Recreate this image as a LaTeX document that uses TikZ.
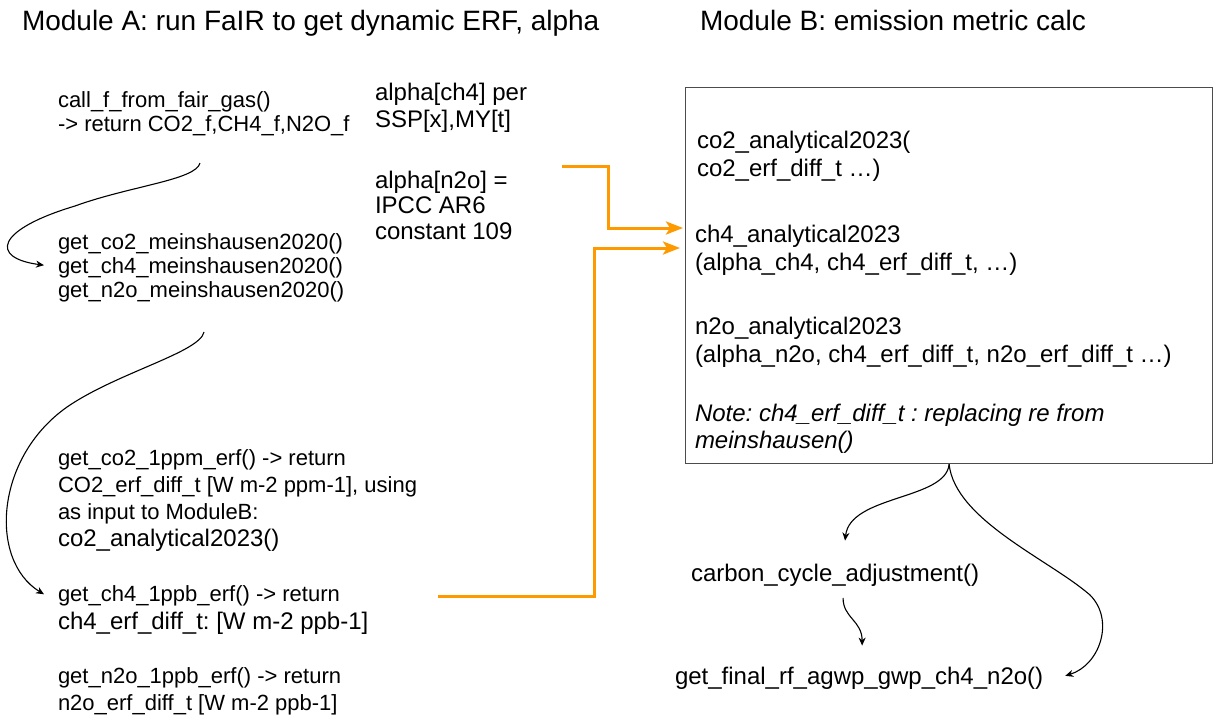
\documentclass[tikz,border=0pt]{standalone}
\usepackage{fontspec}
\setmainfont{Liberation Sans}
\usetikzlibrary{arrows.meta,calc}
\definecolor{gorange}{HTML}{FF9900}
\frenchspacing
\begin{document}
\begin{tikzpicture}[x=1pt,y=-1pt,
  lbl/.style={anchor=north west, inner sep=0pt, outer sep=0pt, align=left},
  single/.style={anchor=base west, inner sep=0pt, outer sep=0pt},
  ttl/.style={single, font=\fontsize{28}{32}\selectfont},
  barrow/.style={draw=black, line width=1.1pt, -{Stealth[length=8pt,width=7pt,inset=2.5pt]}},
  oarrow/.style={draw=gorange, line width=3pt, -{Stealth[length=17pt,width=13pt,inset=4pt]}},
  boxstyle/.style={draw=black!70, line width=1.2pt, inner sep=0pt, anchor=north west, minimum width=527pt, minimum height=376pt}
]
\fill[white] (0,0) rectangle (1224,724);
\useasboundingbox (0,0) rectangle (1224,724);

% titles
\node[ttl] (titleA) at (22,30) {Module A: run FaIR to get dynamic ERF, alpha};
\node[ttl] (titleB) at (700,30) {Module B: emission metric calc};

% Module A texts
\node[lbl, font=\fontsize{22}{24}\selectfont\frenchspacing] (t1) at (58,90.5)
  {\strut call\_f\_from\_fair\_gas()\\-> return CO2\_f,CH4\_f,N2O\_f};
\node[lbl, font=\fontsize{22}{24}\selectfont\frenchspacing] (t2) at (58,232.5)
  {\strut get\_co2\_meinshausen2020()\\get\_ch4\_meinshausen2020()\\get\_n2o\_meinshausen2020()};
\node[lbl, font=\fontsize{22}{27}\selectfont\frenchspacing] (t3) at (58,446.4)
  {\strut get\_co2\_1ppm\_erf() -> return\\CO2\_erf\_diff\_t [W m-2 ppm-1], using\\as input to ModuleB:\\{\fontsize{24}{27}\selectfont co2\_analytical2023()}};
\node[lbl, font=\fontsize{22}{28.5}\selectfont\frenchspacing] (t4) at (58,581.3)
  {\strut get\_ch4\_1ppb\_erf() -> return\\{\fontsize{24}{28.5}\selectfont ch4\_erf\_diff\_t: [W m-2 ppb-1]}};
\node[lbl, font=\fontsize{22}{27}\selectfont\frenchspacing] (t5) at (58,664.4)
  {\strut get\_n2o\_1ppb\_erf() -> return\\n2o\_erf\_diff\_t [W m-2 ppb-1]};

% alpha texts
\node[lbl, font=\fontsize{24}{27}\selectfont\frenchspacing] (alpha1) at (375,81.1)
  {\strut alpha[ch4] per\\SSP[x],MY[t]};
\node[lbl, font=\fontsize{24}{25.5}\selectfont\frenchspacing] (alpha2) at (375,170.15)
  {\strut alpha[n2o] =\\IPCC AR6\\constant 109};

% Module B box
\node[boxstyle] (boxB) at (685,87) {};
\node[lbl, font=\fontsize{24}{28}\selectfont\frenchspacing] (b1) at (697,128.4)
  {\strut co2\_analytical2023(\\co2\_erf\_diff\_t …)};
\node[lbl, font=\fontsize{24}{28}\selectfont\frenchspacing] (b2) at (695,222.4)
  {\strut ch4\_analytical2023\\(alpha\_ch4, ch4\_erf\_diff\_t, …)};
\node[lbl, font=\fontsize{24}{28}\selectfont\frenchspacing] (b3) at (695,314.4)
  {\strut n2o\_analytical2023\\(alpha\_n2o, ch4\_erf\_diff\_t, n2o\_erf\_diff\_t …)};
\node[lbl, font=\fontsize{24}{27}\selectfont\itshape\frenchspacing] (b4) at (695,402.1)
  {\strut Note: ch4\_erf\_diff\_t : replacing re from\\meinshausen()};

% bottom functions
\node[single, font=\fontsize{24}{28}\selectfont] (cca) at (691,581) {carbon\_cycle\_adjustment()};
\node[single, font=\fontsize{24}{28}\selectfont] (final) at (675,684) {get\_final\_rf\_agwp\_gwp\_ch4\_n2o()};

% black connectors
\coordinate (c1s) at (200,163);
\draw[barrow] (c1s) .. controls (196,180) and (130,186) .. (75,206)
  .. controls (-5,230) and (-10,258) .. ($(t2.west)+(-14,-2)$);
\coordinate (c2s) at (204,332);
\draw[barrow] (c2s) .. controls (200,352) and (120,372) .. (70,405)
  .. controls (-5,455) and (-12,560) .. ($(t4.north west)+(-14,13)$);

\draw[barrow] (boxB.south) .. controls (946,500) and (850,495) .. ($(cca.north)+(10,-23)$);
\draw[barrow] (boxB.south) .. controls (955,520) and (1050,560) .. (1090,595)
  .. controls (1115,620) and (1100,665) .. ($(final.east)+(22,-2)$);
\draw[barrow] ($(cca.south)+(8,12)$) .. controls +(0,20) and +(0,-25) .. ($(final.north)+(3,-21)$);

% orange connectors
\coordinate (o1s) at (562,166);
\draw[oarrow] (o1s) -| (608,228) -- ($(boxB.north west)+(-2,141)$);
\coordinate (o2s) at (438,596);
\draw[oarrow] (o2s) -| (594,248) -- ($(boxB.north west)+(-5,161)$);
\end{tikzpicture}
\end{document}
